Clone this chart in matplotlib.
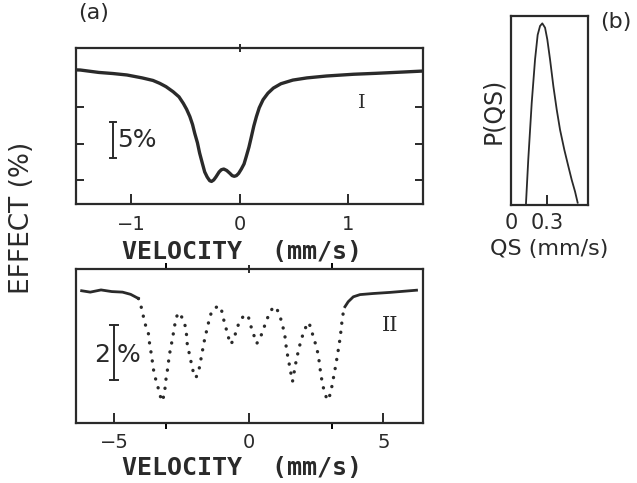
import numpy as np
import matplotlib.pyplot as plt

ink = '#2a2a2a'

# spectrum I (top): velocity (mm/s), effect (%)
vel_1 = [-1.51, -1.47, -1.30, -1.17, -1.04, -0.90, -0.80, -0.737, -0.68, -0.614,
         -0.56, -0.52, -0.49, -0.46, -0.435, -0.415, -0.39, -0.37, -0.345, -0.323,
         -0.30, -0.277, -0.26, -0.24, -0.22, -0.19, -0.17, -0.147, -0.12, -0.09,
         -0.07, -0.05, -0.03, -0.01, 0.015, 0.04, 0.06, 0.085, 0.107, 0.13,
         0.154, 0.18, 0.215, 0.26, 0.31, 0.38, 0.49, 0.62, 0.80, 1.05,
         1.26, 1.50, 1.69]
eff_1 = [0.1, 0.08, -0.25, -0.4, -0.6, -1.0, -1.35, -1.75, -2.2, -2.9,
         -3.6, -4.5, -5.3, -6.3, -7.4, -8.6, -9.9, -11.3, -12.7, -13.9,
         -14.6, -15.1, -15.2, -15.0, -14.6, -13.9, -13.6, -13.5, -13.7, -14.1,
         -14.4, -14.5, -14.4, -14.1, -13.5, -12.8, -11.8, -10.5, -9.1, -7.6,
         -6.3, -5.1, -4.0, -3.1, -2.4, -1.8, -1.3, -1.0, -0.74, -0.5,
         -0.37, -0.2, -0.06]

# spectrum II (bottom): velocity (mm/s), effect (%)
vel_2 = [-6.22, -5.9, -5.5, -5.1, -4.7, -4.4, -4.11,
         -3.99, -3.87, -3.74, -3.68, -3.62, -3.56, -3.46, -3.37, -3.29, -3.22,
         -3.14, -3.08, -3.02, -2.96, -2.90, -2.83, -2.77, -2.71, -2.64, -2.58,
         -2.44, -2.34, -2.29, -2.19, -2.13, -2.04, -1.97, -1.88, -1.82, -1.76,
         -1.70, -1.63, -1.55, -1.47, -1.39, -1.26, -1.10, -1.02, -0.95, -0.85,
         -0.77, -0.68, -0.58, -0.48, -0.40, -0.27, -0.15, -0.02, 0.06, 0.16,
         0.29, 0.41, 0.53, 0.63, 0.76, 0.91, 1.03, 1.16, 1.25, 1.34,
         1.40, 1.47, 1.55, 1.62, 1.75, 1.83, 1.92, 2.02, 2.12, 2.21,
         2.29, 2.39, 2.49, 2.58, 2.66, 2.74, 2.83, 2.91, 2.99, 3.07,
         3.16, 3.23, 3.30, 3.36, 3.41, 3.45, 3.51, 3.57,
         3.69, 3.88, 4.13, 4.62, 5.24, 5.86, 6.23]
eff_2 = [0.05, 0.0, 0.08, 0.02, 0.0, -0.08, -0.23,
         -0.59, -1.13, -1.49, -1.99, -2.29, -2.77, -3.2, -3.5, -3.8, -3.97,
         -3.67, -3.13, -2.77, -2.29, -1.99, -1.62, -1.26, -0.95, -0.78, -0.75,
         -1.02, -1.32, -1.93, -2.35, -2.65, -3.02, -3.11, -2.9, -2.65, -2.29,
         -1.99, -1.62, -1.32, -0.96, -0.72, -0.57, -0.5, -0.65, -0.96, -1.32,
         -1.62, -1.9, -1.75, -1.44, -1.2, -0.96, -0.81, -0.9, -1.2, -1.5,
         -1.87, -1.68, -1.38, -1.08, -0.78, -0.53, -0.59, -0.9, -1.2, -1.62,
         -2.11, -2.47, -2.9, -3.25, -2.53, -2.17, -1.81, -1.5, -1.26, -1.1,
         -1.26, -1.62, -1.93, -2.29, -2.9, -3.38, -3.69, -3.93, -3.81, -3.5,
         -3.02, -2.65, -2.23, -1.87, -1.5, -1.14, -0.72, -0.53,
         -0.35, -0.17, -0.09, -0.05, -0.01, 0.04, 0.07]

# (b) quadrupole splitting distribution
qs = [0.126, 0.145, 0.174, 0.202, 0.224, 0.244, 0.263, 0.286, 0.305, 0.328,
      0.356, 0.384, 0.412, 0.448, 0.482, 0.510, 0.538, 0.560]
p_qs = [0.01, 0.24, 0.54, 0.77, 0.90, 0.947, 0.961, 0.938, 0.876, 0.77,
        0.628, 0.505, 0.398, 0.292, 0.204, 0.133, 0.071, 0.012]

plt.rcParams['font.family'] = 'DejaVu Sans'
fig = plt.figure(figsize=(6.37, 4.83), dpi=100)

ax1 = fig.add_axes([0.1193, 0.5776, 0.5447, 0.323])
ax2 = fig.add_axes([0.1193, 0.1242, 0.5447, 0.3188])
ax3 = fig.add_axes([0.8022, 0.5756, 0.1209, 0.3913])

for ax in (ax1, ax2, ax3):
    for s in ax.spines.values():
        s.set_linewidth(1.6)
        s.set_color(ink)
    ax.tick_params(direction='in', colors=ink, width=1.4, labelsize=14)

# top spectrum
ax1.plot(vel_1, eff_1, color=ink, lw=2.4, solid_capstyle='round',
         solid_joinstyle='round')
ax1.set_xlim(-1.51, 1.69)
ax1.set_ylim(-18.3, 3.1)
ax1.set_xticks([-1, 0, 1])
ax1.set_yticks([-5, -10, -15])
ax1.set_yticklabels([])
ax1.tick_params(axis='x', length=7, pad=8, top=False)
ax1.tick_params(axis='y', length=6, right=True)
ax1.plot([-1.17, -1.17], [-7.0, -12.0], color=ink, lw=1.4)
ax1.plot([-1.2, -1.14], [-7.0, -7.0], color=ink, lw=1.4)
ax1.plot([-1.2, -1.14], [-12.0, -12.0], color=ink, lw=1.4)
ax1.text(-1.13, -9.5, '5%', fontsize=18, color=ink, va='center', ha='left')
ax1.text(1.13, -4.4, 'I', fontsize=14, family='DejaVu Serif', color=ink,
         va='center', ha='center')
ax1.plot([0], [3.1], marker='|', ms=6, mew=1.4, color=ink, clip_on=False)

# bottom spectrum: solid baseline, dotted absorption region
vel_2 = np.array(vel_2)
eff_2 = np.array(eff_2)
left = vel_2 <= -4.11
mid = (vel_2 >= -4.11) & (vel_2 <= 3.57)
right = vel_2 >= 3.57
ax2.plot(vel_2[left], eff_2[left], color=ink, lw=2.0)
ax2.plot(vel_2[right], eff_2[right], color=ink, lw=2.0)
ax2.plot(vel_2[mid], eff_2[mid], color=ink, lw=2.4,
         linestyle=(0, (0.05, 2.7)), dash_capstyle='round')
ax2.set_xlim(-6.43, 6.47)
ax2.set_ylim(-4.76, 0.84)
ax2.set_xticks([-5, 0, 5])
ax2.set_xticks([-3.1, 3.1], minor=True)
ax2.set_yticks([])
ax2.tick_params(axis='x', which='major', length=7, pad=7, top=False)
ax2.tick_params(axis='x', which='minor', length=4, top=True, width=1.4)
ax2.plot([0], [0.84], marker='|', ms=6, mew=1.4, color=ink, clip_on=False)
ax2.plot([-5.02, -5.02], [-1.2, -3.2], color=ink, lw=1.4)
ax2.plot([-5.17, -4.87], [-1.2, -1.2], color=ink, lw=1.4)
ax2.plot([-5.17, -4.87], [-3.2, -3.2], color=ink, lw=1.4)
ax2.text(-5.15, -2.29, '2', fontsize=18, color=ink, va='center', ha='right')
ax2.text(-4.92, -2.29, '%', fontsize=18, color=ink, va='center', ha='left')
ax2.text(5.25, -1.2, 'II', fontsize=15, family='DejaVu Serif', color=ink,
         va='center', ha='center')

# (b) distribution
ax3.plot(qs, p_qs, color=ink, lw=1.3, solid_joinstyle='round')
ax3.set_xlim(0, 0.647)
ax3.set_ylim(0, 1.0)
ax3.set_xticks([0, 0.3])
ax3.set_xticklabels(['0', '0.3'])
ax3.set_yticks([])
ax3.tick_params(axis='x', length=7, pad=6, labelsize=15)
ax3.xaxis.get_major_ticks()[0].tick1line.set_visible(False)
ax3.set_ylabel('P(QS)', fontsize=17, color=ink, labelpad=4)
ax3.set_xlabel('QS (mm/s)', fontsize=16, color=ink, labelpad=4)

# labels
fig.text(242 / 637, 1 - 252 / 483, 'VELOCITY  (mm/s)', fontsize=18,
         family='DejaVu Sans Mono', weight='bold', color=ink,
         ha='center', va='center')
fig.text(242 / 637, 1 - 468 / 483, 'VELOCITY  (mm/s)', fontsize=18,
         family='DejaVu Sans Mono', weight='bold', color=ink,
         ha='center', va='center')
fig.text(22 / 637, 1 - 218 / 483, 'EFFECT (%)', fontsize=19, rotation=90,
         color=ink, ha='center', va='center')
fig.text(78 / 637, 1 - 13 / 483, '(a)', fontsize=16, color=ink,
         ha='left', va='center')
fig.text(600 / 637, 1 - 22 / 483, '(b)', fontsize=16, color=ink,
         ha='left', va='center')

plt.savefig('out.png', dpi=100, facecolor='white')
